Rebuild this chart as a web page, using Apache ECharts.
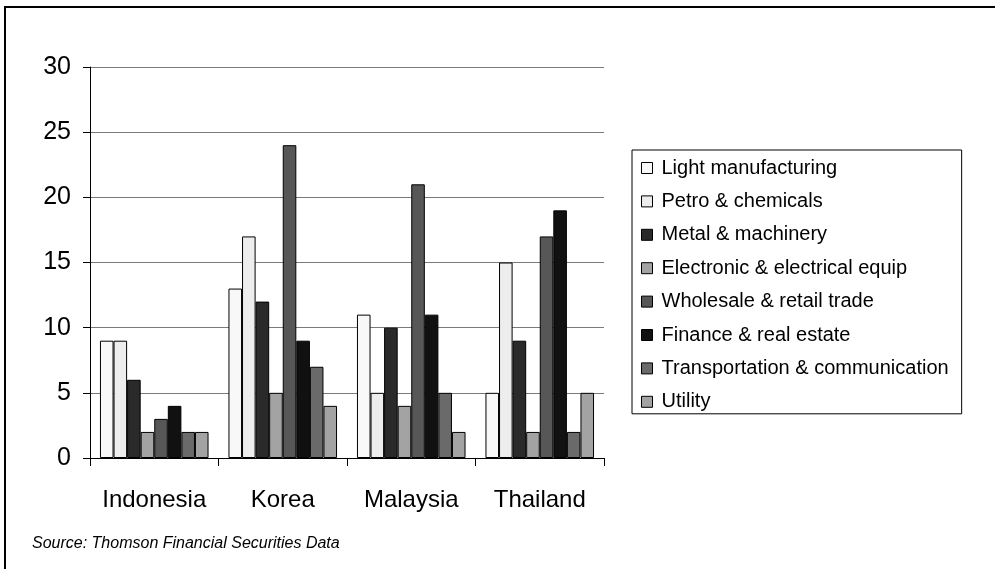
<!DOCTYPE html>
<html>
<head>
<meta charset="utf-8">
<script src="https://cdn.jsdelivr.net/npm/echarts@6/dist/echarts.min.js"></script>
<style>
  html, body { margin: 0; padding: 0; background: #fff; }
  #chart { width: 995px; height: 569px; }
</style>
</head>
<body>
<div id="chart"></div>
<script>
// Countries along the x axis
const countries = ['Indonesia', 'Korea', 'Malaysia', 'Thailand'];

// Y axis ticks
const yTicks = [0, 5, 10, 15, 20, 25, 30];

// Industry series, one value per country
const lightManufacturing = [9, 13, 11, 5];
const petroChemicals = [9, 17, 5, 15];
const metalMachinery = [6, 12, 10, 9];
const electronicEquip = [2, 5, 4, 2];
const wholesaleRetail = [3, 24, 21, 17];
const financeRealEstate = [4, 9, 11, 19];
const transportComm = [2, 7, 5, 2];
const utility = [2, 4, 2, 5];

const seriesNames = [
  'Light manufacturing',
  'Petro & chemicals',
  'Metal & machinery',
  'Electronic & electrical equip',
  'Wholesale & retail trade',
  'Finance & real estate',
  'Transportation & communication',
  'Utility'
];
const seriesValues = [
  lightManufacturing, petroChemicals, metalMachinery, electronicEquip,
  wholesaleRetail, financeRealEstate, transportComm, utility
];
const fills = ['#f8f8f8', '#ededed', '#2a2a2a', '#a3a3a3', '#575757', '#111111', '#6a6a6a', '#a3a3a3'];

const font = '"Liberation Sans", Arial, sans-serif';

const chart = echarts.init(document.getElementById('chart'), null, { renderer: 'canvas' });

chart.setOption({
  animation: false,
  backgroundColor: '#fff',
  textStyle: { fontFamily: font, color: '#000' },
  grid: { left: 90, right: 391, top: 67, bottom: 111, containLabel: false },
  xAxis: {
    type: 'category',
    data: countries,
    axisLine: { show: true, lineStyle: { color: '#000', width: 1 } },
    axisTick: { show: true, interval: 0, alignWithLabel: false, length: 8, lineStyle: { color: '#000' } },
    axisLabel: { interval: 0, fontSize: 24, color: '#000', fontFamily: font, margin: 30, hideOverlap: false },
    splitLine: { show: false }
  },
  yAxis: {
    type: 'value',
    min: yTicks[0],
    max: yTicks[yTicks.length - 1],
    interval: yTicks[1] - yTicks[0],
    axisLine: { show: true, lineStyle: { color: '#000', width: 1 } },
    axisTick: { show: true, inside: false, length: 7, lineStyle: { color: '#000' } },
    axisLabel: { fontSize: 25, color: '#000', fontFamily: font, margin: 19 },
    splitLine: { show: true, lineStyle: { color: '#7a7a7a', width: 1 } }
  },
  legend: {
    orient: 'vertical',
    left: 632,
    top: 150,
    padding: [8, 13, 2, 9],
    itemWidth: 11,
    itemHeight: 11,
    itemGap: 13.4,
    borderColor: '#000',
    borderWidth: 1,
    icon: 'rect',
    textStyle: { fontSize: 20, color: '#000', fontFamily: font, lineHeight: 20, padding: [0, 0, 0, 4] },
    data: seriesNames.map(n => ({ name: n, itemStyle: { borderColor: '#000', borderWidth: 1 } }))
  },
  series: seriesNames.map((name, i) => ({
    name: name,
    type: 'bar',
    data: seriesValues[i],
    barGap: '0%',
    barCategoryGap: '15.5%',
    itemStyle: { color: fills[i], borderColor: '#000', borderWidth: 1 }
  })),
  graphic: [
    {
      type: 'rect',
      shape: { x: 5, y: 7, width: 1100, height: 700 },
      style: { fill: null, stroke: '#000', lineWidth: 2 },
      silent: true
    },
    {
      type: 'text',
      left: 32,
      top: 536,
      style: {
        text: 'Source: Thomson Financial Securities Data',
        font: 'italic 16px ' + font,
        fill: '#000'
      }
    }
  ]
});
</script>
</body>
</html>
